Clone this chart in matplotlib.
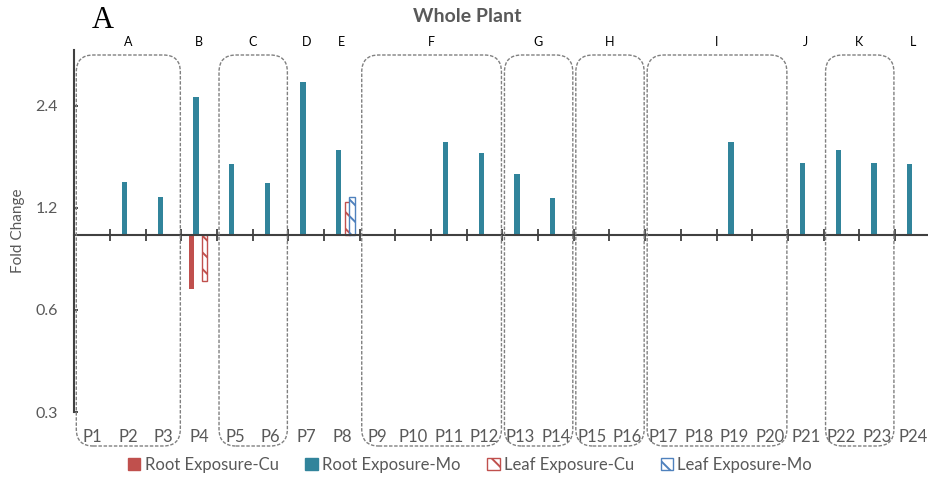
import numpy as np
import matplotlib
matplotlib.use("Agg")
import matplotlib.pyplot as plt
from matplotlib.patches import Patch, FancyBboxPatch
from matplotlib.transforms import IdentityTransform, blended_transform_factory

# categories and groups
cats = ["P%d" % i for i in range(1, 25)]
group_names = ["A", "B", "C", "D", "E", "F", "G", "H", "I", "J", "K", "L"]
group_spans = [(1, 3), (4, 4), (5, 6), (7, 7), (8, 8), (9, 12), (13, 14),
               (15, 16), (17, 20), (21, 21), (22, 23), (24, 24)]
boxed = ["A", "C", "F", "G", "H", "I", "K"]

# fold change values (missing = not significant)
root_cu = {"P4": 0.69}
root_mo = {"P2": 1.43, "P3": 1.29, "P4": 2.54, "P5": 1.61, "P6": 1.42,
           "P7": 2.82, "P8": 1.77, "P11": 1.87, "P12": 1.74, "P13": 1.51,
           "P14": 1.28, "P19": 1.88, "P21": 1.63, "P22": 1.78, "P23": 1.63,
           "P24": 1.62}
leaf_cu = {"P4": 0.73, "P8": 1.25}
leaf_mo = {"P8": 1.29}

TEAL = "#31849B"
RED = "#C0504D"
BLUE = "#4F81BD"
GRAY = "#595959"
FONT = "Lato"
HATCH = "\\\\"
plt.rcParams["hatch.linewidth"] = 1.4

fig = plt.figure(figsize=(9.29, 4.84), dpi=100)
W, H = 929, 484
ax_l, ax_r, ax_t, ax_b = 74.3, 930.6, 50, 412
ax = fig.add_axes([ax_l / W, 1 - ax_b / H, (ax_r - ax_l) / W, (ax_b - ax_t) / H])

x = np.arange(len(cats))
series = [
    (root_cu, -0.22, dict(color=RED)),
    (root_mo, -0.09, dict(color=TEAL)),
    (leaf_cu, 0.15, dict(facecolor="white", edgecolor=RED, hatch=HATCH, linewidth=1)),
    (leaf_mo, 0.28, dict(facecolor="white", edgecolor=BLUE, hatch=HATCH, linewidth=1)),
]
for data, off, style in series:
    vals = np.array([data.get(c, np.nan) for c in cats], dtype=float)
    ax.bar(x + off, vals - 1, bottom=1, width=0.15, zorder=3, **style)

ax.set_yscale("log")
ax.set_ylim(0.3, 3.5)
ax.set_xlim(-0.5, len(cats) - 0.5)
ax.set_yticks([0.3, 0.6, 1.2, 2.4])
ax.set_yticklabels(["0.3", "0.6", "1.2", "2.4"])
ax.yaxis.set_minor_locator(matplotlib.ticker.NullLocator())
ax.set_xticks(np.arange(0.5, len(cats) - 1, 1.0))
ax.set_xticklabels([])

for s in ["top", "right"]:
    ax.spines[s].set_visible(False)
ax.spines["bottom"].set_position(("data", 1))
for s in ["left", "bottom"]:
    ax.spines[s].set_color("#404040")
    ax.spines[s].set_linewidth(1.5)
ax.spines["bottom"].set_zorder(4)
ax.tick_params(axis="x", direction="inout", length=9, width=1.3, color="#404040")
ax.tick_params(axis="y", direction="in", length=3, width=1.3, color="#404040",
               labelsize=11.5, labelcolor=GRAY, pad=12)
for t in ax.get_yticklabels():
    t.set_fontfamily(FONT)
ax.set_ylabel("Fold Change", fontsize=11, color=GRAY, family=FONT)
ax.yaxis.set_label_coords(-0.0576, 0.5)
ax.patch.set_visible(False)

tr = blended_transform_factory(ax.transData, ax.transAxes)
for i, c in enumerate(cats):
    ax.text(i, -0.069, c, transform=tr, ha="center", va="center",
            fontsize=12, color=GRAY, family=FONT, clip_on=False)

fig.canvas.draw()
for name, (a, b) in zip(group_names, group_spans):
    xc = (a + b) / 2 - 1
    ax.text(xc, 1.022, name, transform=tr, ha="center", va="center",
            fontsize=9, color="black", family=FONT, clip_on=False)
    if name in boxed:
        x0 = ax.transData.transform((a - 1.5, 1))[0] + 2
        x1 = ax.transData.transform((b - 0.5, 1))[0] - 1
        y0 = H - 446
        y1 = H - 55
        box = FancyBboxPatch((x0, y0), x1 - x0, y1 - y0,
                             boxstyle="round,pad=0,rounding_size=17",
                             transform=IdentityTransform(), fill=False,
                             edgecolor="#808080", linewidth=1.0,
                             linestyle=(0, (2.5, 1.2)), zorder=1)
        fig.add_artist(box)

fig.text(467 / W, 1 - 17 / H, "Whole Plant", ha="center", va="center",
         fontsize=14, fontweight="bold", color=GRAY, family=FONT)
fig.text(103 / W, 1 - 21 / H, "A", ha="center", va="center",
         fontsize=22, family="Liberation Serif")

handles = [
    Patch(facecolor=RED, edgecolor=RED),
    Patch(facecolor=TEAL, edgecolor=TEAL),
    Patch(facecolor="white", edgecolor=RED, hatch=HATCH),
    Patch(facecolor="white", edgecolor=BLUE, hatch=HATCH),
]
labels = ["Root Exposure-Cu", "Root Exposure-Mo", "Leaf Exposure-Cu", "Leaf Exposure-Mo"]
leg = fig.legend(handles, labels, loc="center", bbox_to_anchor=(470 / W, 1 - 465 / H),
                 ncol=4, frameon=False, handlelength=0.75, handleheight=0.75,
                 handletextpad=0.25, columnspacing=1.6,
                 prop={"family": FONT, "size": 12})
for t in leg.get_texts():
    t.set_color(GRAY)

fig.savefig("out.png", dpi=100)
